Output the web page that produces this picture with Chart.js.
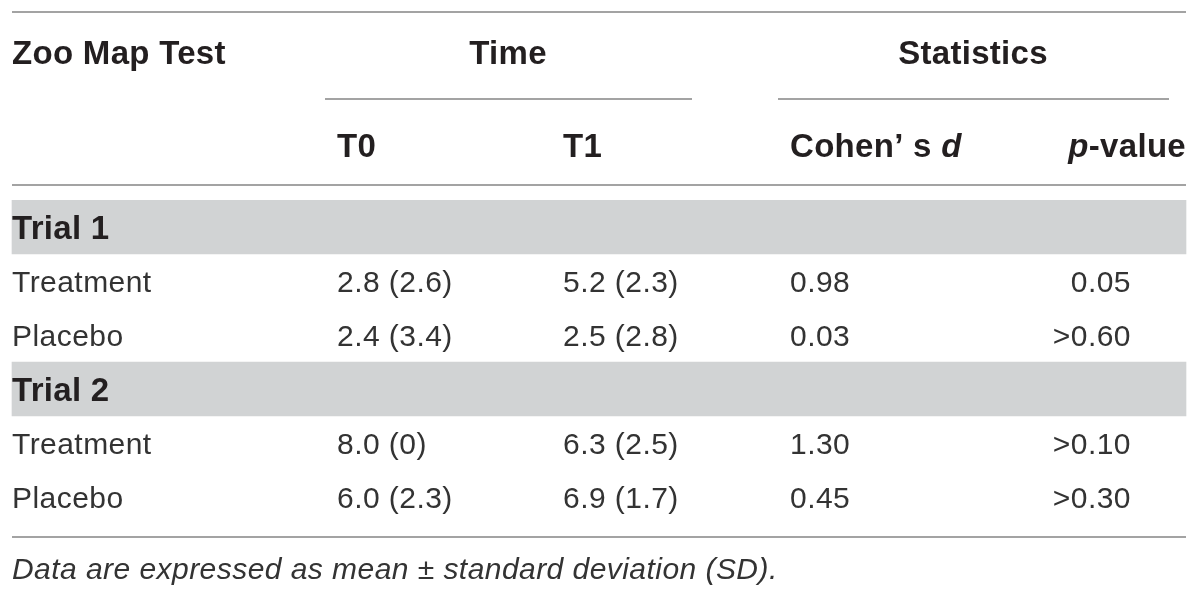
<!DOCTYPE html>
<html>
<head>
<meta charset="utf-8">
<title>Zoo Map Test</title>
<script src="https://cdn.jsdelivr.net/npm/chart.js@4.4.1/dist/chart.umd.min.js"></script>
<style>
  html, body { margin: 0; padding: 0; background: #fff; }
  #table { display: block; }
</style>
</head>
<body>
<canvas id="table" width="1200" height="599"></canvas>
<script>
// Table data
const rowLabels = ['Trial 1', 'Treatment', 'Placebo', 'Trial 2', 'Treatment', 'Placebo'];
const groupRows = [true, false, false, true, false, false];
const t0Mean = [null, 2.8, 2.4, null, 8.0, 6.0];
const t0SD = [null, 2.6, 3.4, null, 0, 2.3];
const t1Mean = [null, 5.2, 2.5, null, 6.3, 6.9];
const t1SD = [null, 2.3, 2.8, null, 2.5, 1.7];
const cohensD = [null, 0.98, 0.03, null, 1.30, 0.45];
const pValues = [null, '0.05', '>0.60', null, '>0.10', '>0.30'];
const footnote = 'Data are expressed as mean \u00b1 standard deviation (SD).';

// Layout (pixels)
const FONT = '"Liberation Sans", Arial, Helvetica, sans-serif';
const BOLD = 'bold 33px ' + FONT;
const DARK = '#231f20';
const BODY = '#333333';
const RULE = '#a3a3a3';
const BAND = '#d1d3d4';
const left = 12, right = 1186;
const cols = { label: 12, t0: 337, t1: 563, d: 790, p: 1131 };

function fmt(mean, sd) {
    if (mean === null) return '';
    return mean.toFixed(1) + ' (' + (sd === 0 ? '0' : sd.toFixed(1)) + ')';
}

function setBold(ctx, italic) {
    ctx.font = (italic ? 'italic ' : '') + BOLD;
    ctx.letterSpacing = '0.3px';
}

function setBody(ctx, italic) {
    ctx.font = (italic ? 'italic ' : '') + '30px ' + FONT;
    ctx.letterSpacing = '0.45px';
}

// draw a run of bold text pieces [text, italic] from x
function drawPieces(ctx, pieces, x, y, align) {
    let total = 0;
    pieces.forEach(p => { setBold(ctx, p[1]); total += ctx.measureText(p[0]).width; });
    let cx = align === 'right' ? x - total : x;
    ctx.textAlign = 'left';
    pieces.forEach(p => {
        setBold(ctx, p[1]);
        ctx.fillText(p[0], cx, y);
        cx += ctx.measureText(p[0]).width;
    });
}

function hline(ctx, x1, x2, y) {
    ctx.beginPath();
    ctx.moveTo(x1, y);
    ctx.lineTo(x2, y);
    ctx.stroke();
}

const tablePlugin = {
    id: 'tablePlugin',
    afterDatasetsDraw(chart) {
        const ctx = chart.ctx;
        const x = chart.scales.x;
        const y = chart.scales.y;
        ctx.save();

        // rules
        ctx.strokeStyle = RULE;
        ctx.lineWidth = 2;
        hline(ctx, x.getPixelForValue(left), x.getPixelForValue(right), 12);
        hline(ctx, x.getPixelForValue(325), x.getPixelForValue(692), 99);
        hline(ctx, x.getPixelForValue(778), x.getPixelForValue(1169), 99);
        hline(ctx, x.getPixelForValue(left), x.getPixelForValue(right), 185);
        hline(ctx, x.getPixelForValue(left), x.getPixelForValue(right), 537);

        // header
        ctx.fillStyle = DARK;
        ctx.textBaseline = 'alphabetic';
        setBold(ctx, false);
        ctx.textAlign = 'left';
        ctx.fillText('Zoo Map Test', cols.label, 64);
        ctx.textAlign = 'center';
        ctx.fillText('Time', x.getPixelForValue(508), 64);
        ctx.fillText('Statistics', x.getPixelForValue(973), 64);
        ctx.textAlign = 'left';
        ctx.fillText('T0', cols.t0, 157);
        ctx.fillText('T1', cols.t1, 157);
        drawPieces(ctx, [['Cohen\u2019 s ', false], ['d', true]], cols.d, 157, 'left');
        drawPieces(ctx, [['p', true], ['-value', false]], 1186, 157, 'right');

        // body rows
        rowLabels.forEach((label, i) => {
            const cy = y.getPixelForValue(i);
            if (groupRows[i]) {
                setBold(ctx, false);
                ctx.fillStyle = DARK;
                ctx.textAlign = 'left';
                ctx.fillText(label, cols.label, cy + 11.5);
                return;
            }
            const base = cy + 11;
            setBody(ctx, false);
            ctx.fillStyle = BODY;
            ctx.textAlign = 'left';
            ctx.fillText(label, cols.label, base);
            ctx.fillText(fmt(t0Mean[i], t0SD[i]), cols.t0, base);
            ctx.fillText(fmt(t1Mean[i], t1SD[i]), cols.t1, base);
            ctx.fillText(cohensD[i].toFixed(2), cols.d, base);
            ctx.textAlign = 'right';
            ctx.fillText(pValues[i], cols.p, base);
        });

        // footnote
        setBody(ctx, true);
        ctx.fillStyle = BODY;
        ctx.textAlign = 'left';
        ctx.fillText(footnote, cols.label, 579);
        ctx.restore();
    }
};

new Chart(document.getElementById('table').getContext('2d'), {
    type: 'bar',
    data: {
        labels: rowLabels.map((l, i) => i + ': ' + l),
        datasets: [{
            label: 'Group band',
            data: groupRows.map(g => (g ? [left, right] : null)),
            backgroundColor: BAND,
            borderWidth: 0,
            barPercentage: 1,
            categoryPercentage: 1
        }]
    },
    options: {
        indexAxis: 'y',
        responsive: false,
        animation: false,
        devicePixelRatio: 1,
        layout: { padding: { top: 200, bottom: 75, left: 0, right: 0 } },
        scales: {
            x: { type: 'linear', min: 0, max: 1200, display: false },
            y: { type: 'category', display: false, grid: { display: false } }
        },
        plugins: {
            legend: { display: false },
            tooltip: { enabled: false }
        }
    },
    plugins: [tablePlugin]
});
</script>
</body>
</html>
